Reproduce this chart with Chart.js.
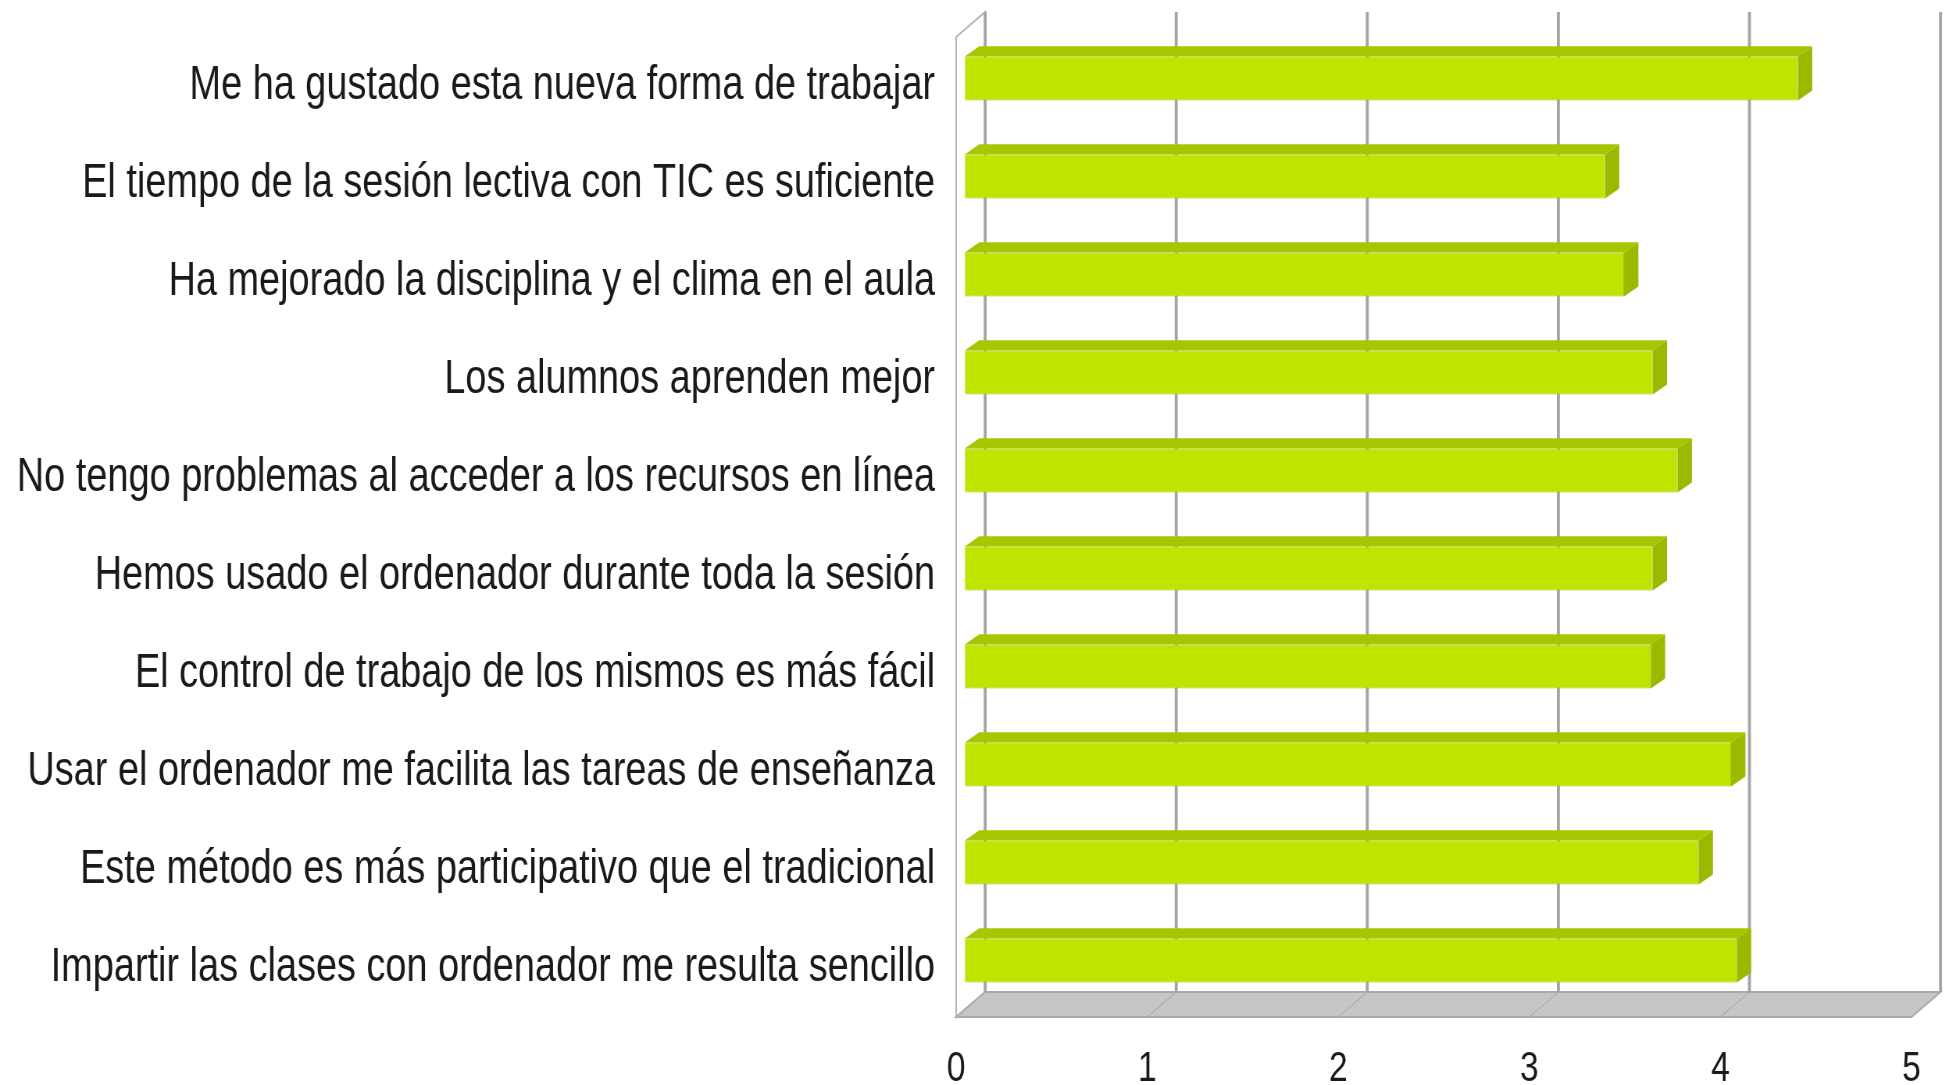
<!DOCTYPE html>
<html>
<head>
<meta charset="utf-8">
<script src="https://cdn.jsdelivr.net/npm/chart.js@4"></script>
<style>
  body { margin: 0; background: #fff; overflow: hidden; }
  #chart { display: block; }
</style>
</head>
<body>
<canvas id="chart"></canvas>
<script>
// Survey statements (top to bottom) and mean scores
const categories = [
  'Me ha gustado esta nueva forma de trabajar',
  'El tiempo de la sesión lectiva con TIC es suficiente',
  'Ha mejorado la disciplina y el clima en el aula',
  'Los alumnos aprenden mejor',
  'No tengo problemas al acceder a los recursos en línea',
  'Hemos usado el ordenador durante toda la sesión',
  'El control de trabajo de los mismos es más fácil',
  'Usar el ordenador me facilita las tareas de enseñanza',
  'Este método es más participativo que el tradicional',
  'Impartir las clases con ordenador me resulta sencillo'
];
const scores = [4.36, 3.35, 3.45, 3.6, 3.73, 3.6, 3.59, 4.01, 3.84, 4.04];
const xTicks = [0, 1, 2, 3, 4, 5];

// the original uses a narrow typeface: draw wider, then squeeze the canvas horizontally
const K = 1.28;
const W = 1949, H = 1085;
const canvas = document.getElementById('chart');
canvas.width = Math.round(W * K);
canvas.height = H;
canvas.style.width = W + 'px';
canvas.style.height = H + 'px';

const FONT = '"Liberation Sans", Arial, sans-serif';

// depth of the fake 3D box
const DEPTH_X = 29 * K, DEPTH_Y = -25;
// bars sit between these fractions of the depth
const BAR_FRONT = 0.3, BAR_BACK = 0.75;

const box3d = {
  id: 'box3d',
  beforeDatasetsDraw(chart) {
    const ctx = chart.ctx;
    const area = chart.chartArea;
    const xs = chart.scales.x;
    ctx.save();

    // left wall
    ctx.beginPath();
    ctx.moveTo(area.left, area.bottom);
    ctx.lineTo(area.left, area.top);
    ctx.lineTo(area.left + DEPTH_X, area.top + DEPTH_Y);
    ctx.lineTo(area.left + DEPTH_X, area.bottom + DEPTH_Y);
    ctx.closePath();
    ctx.fillStyle = '#ffffff';
    ctx.fill();
    ctx.strokeStyle = '#b4b4b4';
    ctx.lineWidth = 2;
    ctx.stroke();

    // floor
    const right = xs.getPixelForValue(xTicks[xTicks.length - 1]);
    ctx.beginPath();
    ctx.moveTo(area.left, area.bottom);
    ctx.lineTo(right, area.bottom);
    ctx.lineTo(right + DEPTH_X, area.bottom + DEPTH_Y);
    ctx.lineTo(area.left + DEPTH_X, area.bottom + DEPTH_Y);
    ctx.closePath();
    ctx.fillStyle = '#c6c6c6';
    ctx.fill();
    ctx.strokeStyle = '#a9a9a9';
    ctx.lineWidth = 2;
    ctx.stroke();

    // floor divisions and back wall grid
    xTicks.forEach(v => {
      const px = xs.getPixelForValue(v);
      ctx.beginPath();
      ctx.moveTo(px, area.bottom);
      ctx.lineTo(px + DEPTH_X, area.bottom + DEPTH_Y);
      ctx.strokeStyle = '#b0b0b0';
      ctx.lineWidth = 1.5;
      ctx.stroke();

      ctx.beginPath();
      ctx.moveTo(px + DEPTH_X, area.top + DEPTH_Y);
      ctx.lineTo(px + DEPTH_X, area.bottom + DEPTH_Y);
      ctx.strokeStyle = '#a4a4a4';
      ctx.lineWidth = 3.8;
      ctx.stroke();
    });
    ctx.restore();

    // shift the bar front faces into the box
    ctx.save();
    ctx.translate(DEPTH_X * BAR_FRONT, DEPTH_Y * BAR_FRONT);
  },
  afterDatasetsDraw(chart) {
    const ctx = chart.ctx;
    const dx = DEPTH_X * (BAR_BACK - BAR_FRONT) * 1.1;
    const dy = DEPTH_Y * (BAR_BACK - BAR_FRONT) * 0.9;
    chart.getDatasetMeta(0).data.forEach(bar => {
      const p = bar.getProps(['x', 'y', 'base', 'height'], true);
      const top = p.y - p.height / 2, bottom = p.y + p.height / 2;
      // top face
      ctx.beginPath();
      ctx.moveTo(p.base, top);
      ctx.lineTo(p.x, top);
      ctx.lineTo(p.x + dx, top + dy);
      ctx.lineTo(p.base + dx, top + dy);
      ctx.closePath();
      ctx.fillStyle = '#a6c600';
      ctx.fill();
      // side face
      ctx.beginPath();
      ctx.moveTo(p.x, top);
      ctx.lineTo(p.x + dx, top + dy);
      ctx.lineTo(p.x + dx, bottom + dy);
      ctx.lineTo(p.x, bottom);
      ctx.closePath();
      ctx.fillStyle = '#9cb900';
      ctx.fill();
    });
    ctx.restore();
  }
};

new Chart(canvas, {
  type: 'bar',
  data: {
    labels: categories,
    datasets: [{
      data: scores,
      backgroundColor: '#bfe400',
      borderColor: '#a9c900',
      borderWidth: 1,
      barPercentage: 0.9,
      categoryPercentage: 0.5
    }]
  },
  options: {
    indexAxis: 'y',
    responsive: false,
    animation: false,
    devicePixelRatio: 1,
    layout: { padding: { top: 37, right: Math.round(W * K) - Math.round(1912 * K), bottom: 0, left: 0 } },
    plugins: {
      legend: { display: false },
      tooltip: { enabled: false }
    },
    scales: {
      x: {
        min: 0,
        max: 5,
        afterFit: scale => {
          scale.height = 68;
          scale.paddingLeft = 0;
          scale.paddingRight = 0;
        },
        afterBuildTicks: scale => { scale.ticks = xTicks.map(v => ({ value: v })); },
        grid: { display: false, drawTicks: false },
        border: { display: false },
        ticks: {
          color: '#1a1a1a',
          padding: 26,
          font: { family: FONT, size: 43 }
        }
      },
      y: {
        afterFit: scale => {
          scale.width = Math.round(956 * K);
          scale.paddingTop = 0;
          scale.paddingBottom = 0;
        },
        grid: { display: false, drawTicks: false },
        border: { display: false },
        ticks: {
          color: '#1a1a1a',
          padding: Math.round(21 * K),
          autoSkip: false,
          font: { family: FONT, size: 48.5 }
        }
      }
    }
  },
  plugins: [box3d]
});
</script>
</body>
</html>
